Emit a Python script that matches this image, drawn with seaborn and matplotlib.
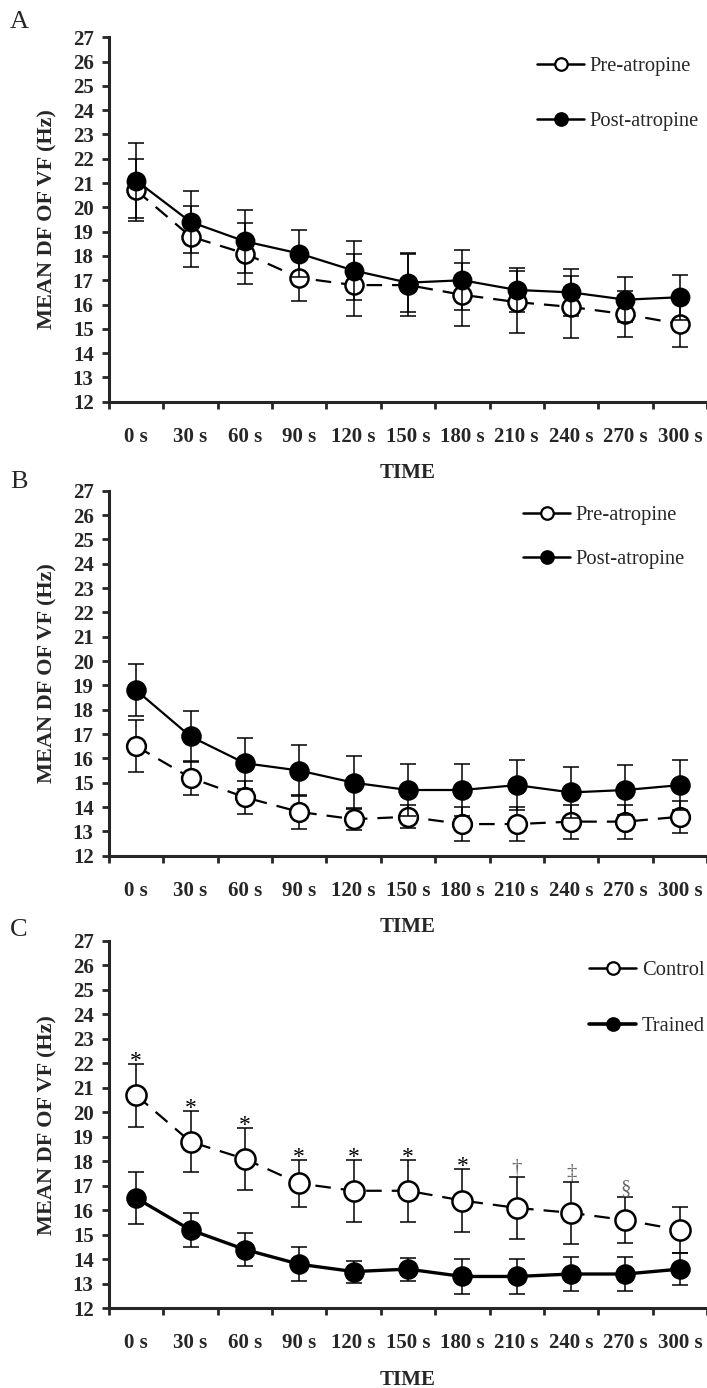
import numpy as np
import pandas as pd
import matplotlib
matplotlib.use("Agg")
import matplotlib.pyplot as plt
from matplotlib.lines import Line2D
from matplotlib.ticker import FixedLocator
import seaborn as sns

TIME_LABELS = ["0 s", "30 s", "60 s", "90 s", "120 s", "150 s",
               "180 s", "210 s", "240 s", "270 s", "300 s"]

# Panel A - control group, pre vs post atropine
A_PRE = [20.7, 18.8, 18.1, 17.1, 16.8, 16.8, 16.4, 16.1, 15.9, 15.6, 15.2]
A_PRE_ERR = [1.28, 1.25, 1.26, 0.95, 1.26, 1.26, 1.30, 1.26, 1.27, 0.94, 0.94]
A_POST = [21.1, 19.4, 18.6, 18.1, 17.4, 16.9, 17.0, 16.6, 16.5, 16.2, 16.3]
A_POST_ERR = [1.55, 1.27, 1.29, 0.95, 1.21, 1.22, 1.24, 0.92, 0.96, 0.92, 0.92]

# Panel B - trained group, pre vs post atropine
B_PRE = [16.5, 15.2, 14.4, 13.8, 13.5, 13.6, 13.3, 13.3, 13.4, 13.4, 13.6]
B_PRE_ERR = [1.07, 0.70, 0.68, 0.70, 0.45, 0.47, 0.70, 0.70, 0.70, 0.70, 0.65]
B_POST = [18.8, 16.9, 15.8, 15.5, 15.0, 14.7, 14.7, 14.9, 14.6, 14.7, 14.9]
B_POST_ERR = [1.07, 1.05, 1.05, 1.05, 1.08, 1.05, 1.05, 1.03, 1.05, 1.02, 1.03]

# Panel C - control vs trained (pre-atropine)
C_CONTROL = [20.7, 18.8, 18.1, 17.1, 16.8, 16.8, 16.4, 16.1, 15.9, 15.6, 15.2]
C_CONTROL_ERR = [1.28, 1.25, 1.26, 0.95, 1.26, 1.26, 1.30, 1.26, 1.27, 0.94, 0.94]
C_TRAINED = [16.5, 15.2, 14.4, 13.8, 13.5, 13.6, 13.3, 13.3, 13.4, 13.4, 13.6]
C_TRAINED_ERR = [1.07, 0.70, 0.68, 0.70, 0.45, 0.47, 0.70, 0.70, 0.70, 0.70, 0.65]
C_SIG = ["*", "*", "*", "*", "*", "*", "*", "\u2020", "\u2021", "\u00a7", ""]

sns.set_style("ticks")
plt.rcParams["font.family"] = ["Liberation Serif", "DejaVu Serif"]

W, H = 707, 1388
DASH = (0, (7, 4.5))
TICK_FS = 15
LEG_FS = 14.8


def draw_series(ax, values, errs, filled, dashed, lw, ms, z):
    pos = np.arange(len(values))
    df = pd.DataFrame({"pos": pos, "val": values})
    ax.errorbar(pos, values, yerr=errs, fmt="none", ecolor="black",
                elinewidth=1.1, capsize=6, capthick=1.1, zorder=z)
    sns.lineplot(data=df, x="pos", y="val", ax=ax, color="black",
                 linewidth=lw, linestyle=DASH if dashed else "-",
                 marker="o", markersize=ms,
                 markerfacecolor="black" if filled else "white",
                 markeredgecolor="black", markeredgewidth=1.8,
                 errorbar=None, zorder=z + 0.5)


def style_axes(ax):
    ax.set_xlim(-0.5, len(TIME_LABELS) - 0.5)
    ax.set_ylim(12, 27)
    ax.set_yticks(range(12, 28))
    ax.set_xticks(np.arange(len(TIME_LABELS)))
    ax.set_xticklabels(TIME_LABELS, fontweight="bold", fontsize=TICK_FS)
    ax.set_yticklabels([str(v) for v in range(12, 28)],
                       fontweight="bold", fontsize=TICK_FS)
    ax.xaxis.set_minor_locator(
        FixedLocator(np.arange(-0.5, len(TIME_LABELS), 1.0)))
    ax.tick_params(axis="x", which="major", length=0, pad=18)
    ax.tick_params(axis="x", which="minor", length=5, width=2,
                   direction="out")
    ax.tick_params(axis="y", length=5, width=2, direction="out", pad=6)
    for s in ["top", "right"]:
        ax.spines[s].set_visible(False)
    for s in ["left", "bottom"]:
        ax.spines[s].set_linewidth(2.2)
    ax.set_xlabel("TIME", fontweight="bold", fontsize=TICK_FS, labelpad=12)
    ax.set_ylabel("MEAN DF OF VF (Hz)", fontweight="bold",
                  fontsize=16, labelpad=11)


def add_legend(ax, labels, thick, x_px, y_px, spacing):
    handles = [
        Line2D([], [], color="black", lw=1.8, marker="o", ms=9,
               mfc="white", mec="black", mew=1.6),
        Line2D([], [], color="black", lw=thick, marker="o", ms=9,
               mfc="black", mec="black", mew=1.6),
    ]
    ax.legend(handles, labels, loc="upper left",
              bbox_to_anchor=(x_px / W, 1 - y_px / H),
              bbox_transform=ax.figure.transFigure,
              frameon=False, fontsize=LEG_FS, borderpad=0,
              borderaxespad=0, handlelength=2.3, handletextpad=0.27,
              labelspacing=spacing)


def axes_rect(top_px, bottom_px, left_px=109):
    return [left_px / W, 1 - bottom_px / H,
            (W - left_px) / W, (bottom_px - top_px) / H]


fig = plt.figure(figsize=(W / 100, H / 100), dpi=100)

# Panel A
ax_a = fig.add_axes(axes_rect(37.3, 401.7))
draw_series(ax_a, A_PRE, A_PRE_ERR, False, True, 1.6, 13, 2)
draw_series(ax_a, A_POST, A_POST_ERR, True, False, 1.6, 12.5, 4)
style_axes(ax_a)
add_legend(ax_a, ["Pre-atropine", "Post-atropine"], 1.8, 537, 57, 1.7)

# Panel B
ax_b = fig.add_axes(axes_rect(490.7, 855.7))
draw_series(ax_b, B_PRE, B_PRE_ERR, False, True, 1.6, 13.5, 2)
draw_series(ax_b, B_POST, B_POST_ERR, True, False, 1.6, 13, 4)
style_axes(ax_b)
add_legend(ax_b, ["Pre-atropine", "Post-atropine"], 1.8, 523, 506, 1.2)

# Panel C
ax_c = fig.add_axes(axes_rect(941, 1308.3))
draw_series(ax_c, C_CONTROL, C_CONTROL_ERR, False, True, 1.6, 14.5, 2)
draw_series(ax_c, C_TRAINED, C_TRAINED_ERR, True, False, 2.4, 13, 4)
style_axes(ax_c)
add_legend(ax_c, ["Control", "Trained"], 2.6, 589, 961, 1.75)

for i, mark in enumerate(C_SIG):
    if not mark:
        continue
    top = C_CONTROL[i] + C_CONTROL_ERR[i]
    if mark == "*":
        ax_c.annotate(mark, xy=(i, top), xytext=(0, -2),
                      textcoords="offset points", ha="center",
                      va="baseline", fontsize=17, color="black")
    else:
        ax_c.annotate(mark, xy=(i, top), xytext=(0, 3),
                      textcoords="offset points", ha="center",
                      va="baseline", fontsize=15, color="#6a6a6a")

# panel letters
for letter, y_px in [("A", 22), ("B", 482), ("C", 930)]:
    fig.text(10 / W, 1 - y_px / H, letter, fontsize=19, va="center",
             ha="left")

fig.savefig("out.png", dpi=100)
